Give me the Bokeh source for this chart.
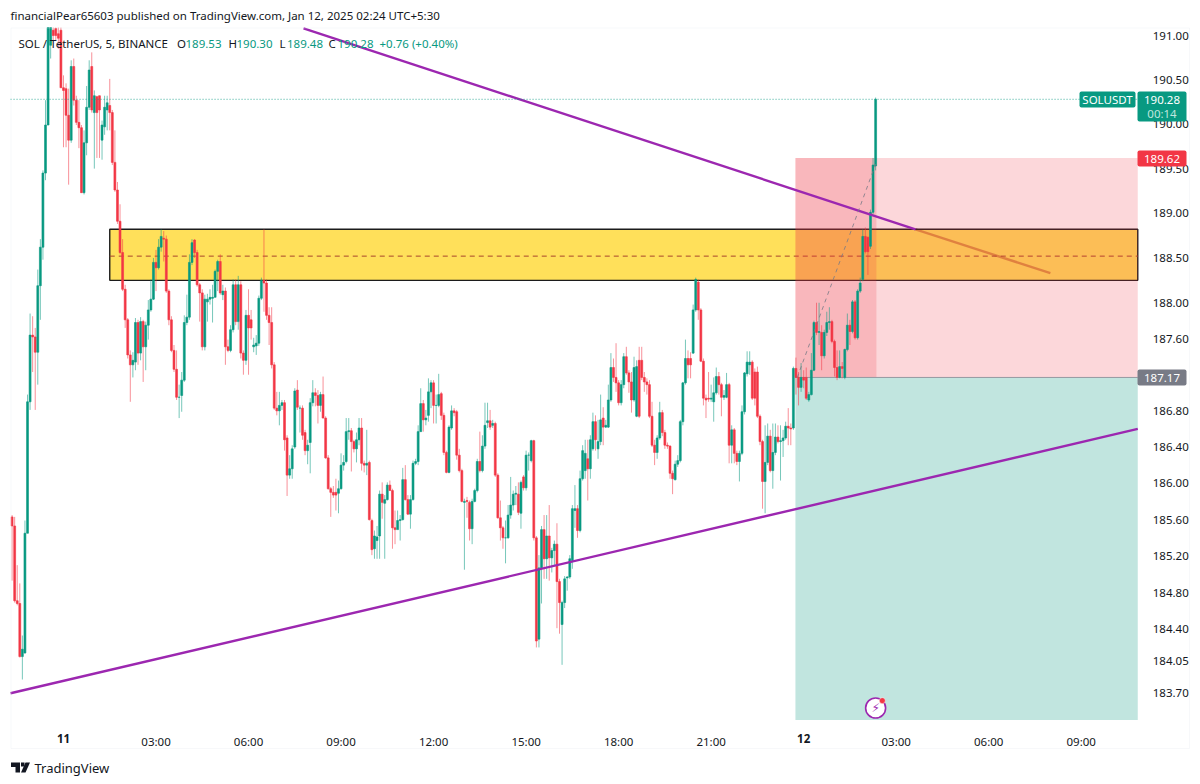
from bokeh.embed import file_html
from bokeh.resources import INLINE
from bokeh.plotting import figure
from bokeh.models import (Label, BoxAnnotation, PolyAnnotation, FixedTicker, NumeralTickFormatter,
                          Range1d, ColumnDataSource, LinearAxis)

# 5-minute bars, numbered from 00:00 on 11 Jan (bar 0); 337 bars, ten per row
opens = [
185.63,185.53,184.71,184.68,184.10,184.14,185.45,186.90,187.64,187.62,
187.45,188.19,188.62,189.45,189.99,190.89,191.06,191.08,191.02,191.06,
190.41,190.40,190.10,189.82,190.65,190.27,190.02,189.96,189.23,189.79,
190.19,190.65,190.13,190.31,190.32,189.82,189.97,190.16,190.21,190.13,
189.57,189.26,188.91,188.56,188.15,187.81,187.42,187.31,187.34,187.78,
187.44,187.79,187.51,187.75,187.92,188.04,188.45,188.39,188.62,188.72,
188.71,188.13,187.81,187.47,187.26,186.95,186.97,187.14,187.78,187.84,
188.45,188.70,188.56,188.20,188.11,187.51,188.01,188.04,188.05,188.06,
188.35,188.46,188.09,188.13,187.51,187.47,187.70,188.20,187.79,188.20,
187.44,187.36,187.86,187.81,187.51,187.52,187.55,188.05,188.25,188.22,
187.86,187.78,187.31,186.83,186.80,186.86,186.89,186.50,186.09,186.16,
186.40,187.03,186.83,186.83,186.56,186.36,186.45,186.89,187.00,186.97,
186.86,186.98,186.72,186.28,185.94,185.90,185.90,185.89,185.94,186.20,
186.24,186.57,186.58,186.46,186.38,186.48,186.61,186.22,186.20,186.23,
185.59,185.28,185.37,185.42,185.88,185.78,185.82,185.98,185.92,185.51,
185.49,185.59,185.60,186.04,185.82,185.66,185.82,186.22,186.24,186.57,
186.88,186.70,186.75,187.01,187.11,186.86,186.86,186.99,186.75,186.34,
186.12,186.61,186.80,186.79,186.31,186.14,185.79,185.81,185.79,185.50,
185.80,185.92,186.24,186.14,186.41,186.67,186.69,186.64,186.66,186.09,
185.62,185.51,185.40,185.40,185.65,185.76,185.88,185.88,185.67,186.07,
185.95,186.31,186.25,186.47,185.40,184.29,185.07,185.49,185.17,185.42,
185.18,185.26,185.33,184.92,184.45,184.69,184.96,184.97,185.15,185.70,
185.72,185.48,186.05,186.14,186.27,186.16,186.38,186.68,186.38,186.46,
186.72,186.62,186.62,186.92,187.28,187.17,187.11,186.89,187.09,187.40,
187.22,187.12,186.92,186.74,187.36,187.36,187.17,187.12,187.09,186.74,
186.42,186.34,186.50,186.78,186.56,186.42,186.41,186.11,186.04,186.21,
186.25,186.68,187.11,187.38,187.38,187.44,187.92,188.23,187.92,187.35,
186.94,186.94,186.93,186.90,187.00,187.18,187.09,186.95,186.95,187.09,
186.42,186.59,186.33,186.24,186.33,186.79,187.21,187.31,187.34,187.23,
187.23,186.74,186.46,186.02,186.23,186.52,186.14,186.34,186.51,186.46,
186.47,186.50,186.63,186.61,186.61,187.27,187.17,187.06,187.17,187.17,
186.92,186.98,187.25,187.78,187.67,187.67,187.41,187.67,187.78,187.79,
187.57,187.28,187.17,187.29,187.17,187.48,187.75,187.68,188.01,187.61,
188.13,188.26,188.74,188.73,188.63,189.01,189.53]
highs = [
185.65,185.63,185.10,184.90,184.33,185.59,186.98,187.88,187.85,187.72,
188.37,188.71,189.48,190.27,191.09,191.09,191.09,191.09,191.09,191.09,
190.55,190.46,190.40,190.72,190.74,190.32,190.27,189.99,189.93,190.43,
190.72,190.81,190.38,190.32,190.32,190.04,190.32,190.32,190.51,190.16,
189.93,189.35,189.10,188.71,188.20,187.83,187.47,187.45,187.83,187.81,
187.84,187.81,187.79,188.03,188.26,188.50,188.59,188.71,188.82,188.80,
188.75,188.15,187.85,187.53,187.47,187.09,187.23,187.86,188.09,188.54,
188.71,188.71,188.59,188.22,188.15,188.09,188.10,188.15,188.20,188.37,
188.48,188.54,188.20,188.17,187.59,187.75,188.26,188.26,188.30,188.24,
187.47,187.92,188.15,187.92,187.61,187.64,188.08,188.28,188.82,188.26,
187.95,187.95,187.34,187.01,187.01,186.92,186.92,186.53,186.31,186.42,
187.05,187.14,186.86,186.86,186.59,186.48,186.94,187.14,187.05,187.03,
187.01,187.18,186.74,186.31,185.96,185.97,186.05,186.03,186.33,186.31,
186.72,186.72,186.61,186.48,186.56,186.72,186.72,186.25,186.59,186.25,
185.61,185.48,185.53,185.92,186.01,185.87,186.01,186.03,185.94,185.70,
185.70,185.65,186.17,186.20,185.87,185.87,186.25,186.27,186.64,187.05,
186.92,186.81,187.16,187.14,187.14,186.98,187.21,187.01,186.78,186.36,
186.64,186.86,186.83,186.81,186.38,186.16,185.83,185.85,185.81,185.83,
185.94,186.27,186.57,186.53,186.89,186.89,186.81,186.70,186.68,186.11,
185.81,185.53,185.59,185.76,186.07,185.92,185.97,186.01,186.03,186.09,
186.36,186.34,186.48,186.48,185.42,185.21,185.53,185.65,185.65,185.76,
185.29,185.37,185.56,184.95,184.71,184.98,184.98,185.21,185.76,185.98,
185.76,186.14,186.42,186.48,186.48,186.53,186.78,186.75,186.70,186.98,
186.84,186.70,187.09,187.44,187.38,187.55,187.14,187.14,187.44,187.51,
187.25,187.23,187.40,187.36,187.51,187.51,187.23,187.16,187.14,186.90,
186.48,186.53,186.90,186.81,186.59,186.45,186.42,186.14,186.25,186.31,
186.70,187.12,187.59,187.47,187.45,187.98,188.28,188.26,187.94,187.38,
186.98,187.23,187.09,187.17,187.28,187.23,187.11,187.03,187.22,187.11,
186.64,186.61,186.36,186.36,186.86,187.23,187.46,187.46,187.36,187.27,
187.29,186.76,186.48,186.64,186.66,186.59,186.66,186.66,186.64,186.64,
186.59,186.68,186.83,186.66,187.29,187.39,187.23,187.33,187.25,187.28,
187.01,187.44,187.80,188.00,188.00,187.75,187.70,187.90,187.95,187.81,
187.59,187.47,187.47,187.34,187.49,187.88,187.81,188.03,188.03,188.15,
188.28,188.82,188.84,188.74,189.04,189.62,190.30]
lows = [
184.93,184.69,184.66,184.09,183.85,184.13,185.45,186.81,187.23,186.81,
187.09,187.81,188.48,189.37,189.99,190.74,190.94,190.94,190.85,190.41,
189.74,189.74,189.32,189.79,190.21,189.99,189.73,189.23,189.21,189.65,
190.16,190.13,189.50,189.62,189.62,189.60,189.88,189.93,189.93,189.54,
189.24,188.88,188.54,188.13,187.72,187.38,186.90,187.17,187.25,187.31,
187.36,187.12,187.25,187.59,187.90,188.03,188.13,188.37,188.57,188.46,
188.11,187.75,187.45,187.23,186.92,186.72,186.79,187.12,187.75,187.81,
188.42,188.50,188.18,187.79,187.47,187.47,187.79,187.98,187.78,188.13,
188.13,188.09,188.03,187.31,187.45,187.45,187.67,187.75,187.70,187.38,
187.20,187.31,187.20,187.59,187.45,187.42,187.52,188.03,187.90,187.81,
187.53,187.27,186.81,186.75,186.64,186.81,186.36,185.86,186.05,186.05,
186.38,186.81,186.56,186.48,186.31,186.21,186.11,186.85,186.85,186.66,
186.79,186.72,186.27,185.93,185.63,185.84,185.70,185.67,185.93,186.14,
186.22,186.48,186.13,186.34,186.23,186.42,186.14,186.12,186.09,185.59,
185.21,185.17,185.17,185.17,185.61,185.17,185.81,185.92,185.28,185.33,
185.50,185.37,185.59,185.81,185.65,185.50,185.81,186.20,186.20,186.57,
186.57,186.64,186.68,186.83,186.66,186.66,186.84,186.70,186.31,186.11,
186.11,186.59,186.74,186.26,186.12,185.79,185.05,185.62,185.37,185.33,
185.79,185.90,186.12,186.12,186.38,186.61,186.59,186.61,186.07,185.61,
185.37,185.28,185.12,185.39,185.61,185.70,185.76,185.65,185.50,185.92,
185.92,186.14,186.23,185.37,184.20,184.20,184.68,184.95,184.95,184.93,
185.02,185.10,184.41,184.35,184.01,184.63,184.82,184.95,185.06,185.51,
185.40,185.46,186.03,186.05,185.81,186.05,186.36,186.36,186.27,186.42,
186.42,186.61,186.61,186.90,187.12,187.01,186.86,186.86,187.05,187.20,
187.00,186.78,186.90,186.73,186.72,187.14,187.01,186.98,186.72,186.40,
186.20,186.27,186.48,186.52,186.38,186.38,186.05,185.88,186.03,186.18,
186.23,186.64,187.09,187.16,187.16,187.43,187.90,187.81,187.34,186.86,
186.72,186.90,186.90,186.68,186.98,186.98,186.74,186.92,186.94,186.22,
186.22,186.22,186.20,186.02,186.31,186.76,187.18,187.20,186.92,186.86,
186.72,186.42,185.72,185.67,186.20,186.12,185.94,186.31,186.44,186.03,
186.29,186.48,186.42,186.42,186.59,186.98,186.86,187.01,187.05,186.92,
186.90,186.97,187.24,187.64,187.53,187.25,187.38,187.63,187.70,187.55,
187.18,187.14,187.16,187.16,187.15,187.46,187.53,187.66,187.59,187.59,
188.11,188.24,188.55,188.31,188.60,188.99,189.48]
closes = [
185.53,184.71,184.68,184.10,184.18,185.45,186.90,187.64,187.62,187.45,
188.19,188.62,189.45,189.99,191.09,191.09,191.00,191.00,190.97,190.41,
190.38,190.10,189.82,190.65,190.27,190.02,189.96,189.23,189.79,190.19,
190.61,190.16,190.32,190.13,190.16,189.99,190.19,190.24,190.13,189.57,
189.26,188.91,188.56,188.15,187.81,187.42,187.31,187.36,187.78,187.44,
187.79,187.51,187.75,187.92,188.04,188.45,188.39,188.62,188.74,188.71,
188.13,187.81,187.47,187.26,186.95,186.95,187.14,187.78,187.84,188.45,
188.67,188.56,188.20,188.11,187.51,188.04,188.04,188.06,188.06,188.35,
188.46,188.11,188.13,187.51,187.47,187.70,188.20,187.79,188.20,187.44,
187.36,187.86,187.72,187.72,187.53,187.55,188.05,188.25,188.22,187.86,
187.78,187.31,186.83,186.80,186.86,186.89,186.48,186.09,186.16,186.38,
187.02,186.84,186.83,186.53,186.36,186.42,186.89,187.00,186.97,186.86,
186.98,186.72,186.28,185.94,185.90,185.87,185.87,185.94,186.20,186.23,
186.57,186.58,186.46,186.38,186.48,186.61,186.22,186.20,186.22,185.60,
185.27,185.42,185.41,185.88,185.79,185.82,185.98,185.92,185.51,185.49,
185.59,185.60,186.04,185.82,185.66,185.82,186.22,186.24,186.57,186.88,
186.70,186.72,187.01,187.11,186.86,186.86,186.98,186.75,186.34,186.12,
186.62,186.80,186.78,186.31,186.14,185.80,185.80,185.80,185.50,185.80,
185.92,186.24,186.14,186.41,186.64,186.69,186.62,186.66,186.09,185.62,
185.51,185.40,185.40,185.65,185.76,185.88,185.89,185.68,186.01,185.95,
186.31,186.31,186.47,185.40,184.27,185.07,185.49,185.17,185.42,185.18,
185.26,185.33,184.92,184.69,184.69,184.95,184.97,185.17,185.72,185.72,
185.48,186.05,186.36,186.33,186.16,186.48,186.68,186.48,186.46,186.70,
186.62,186.64,186.92,187.28,187.17,187.11,186.89,187.09,187.40,187.22,
187.12,186.92,187.28,187.29,186.74,187.17,187.12,187.09,186.74,186.42,
186.34,186.50,186.78,186.56,186.42,186.41,186.11,186.05,186.21,186.25,
186.68,187.11,187.38,187.31,187.31,187.92,188.26,187.92,187.35,186.94,
186.92,186.93,186.94,187.00,187.18,187.09,186.95,186.97,187.09,186.42,
186.59,186.33,186.24,186.33,186.79,187.22,187.34,187.34,186.94,186.94,
186.74,186.46,186.02,186.23,186.52,186.14,186.34,186.51,186.46,186.47,
186.50,186.63,186.61,186.60,187.27,187.17,187.06,187.17,187.14,186.94,
186.98,187.25,187.78,187.67,187.68,187.41,187.67,187.78,187.79,187.57,
187.28,187.17,187.29,187.27,187.48,187.75,187.68,188.01,187.61,188.13,
188.22,188.74,188.57,188.57,189.01,189.54,190.28]
first_bar = -20

price_ticks = [191.00, 190.50, 190.00, 189.50, 189.00, 188.50, 188.00, 187.60, 186.80,
               186.40, 186.00, 185.60, 185.20, 184.80, 184.40, 184.05, 183.70]
time_tick_bars = [36, 72, 108, 144, 180, 216, 252, 324, 360, 396]
time_tick_text = ["03:00", "06:00", "09:00", "12:00", "15:00", "18:00", "21:00", "03:00", "06:00", "09:00"]
day_tick_bars = [0, 288]
day_tick_text = ["11", "12"]

zone_low, zone_mid, zone_high, zone_start = 188.25, 188.52, 188.82, 18
pos_start, pos_end = 284.8, 316.3
stop_price, entry_price, target_price = 189.62, 187.17, 183.41
last_price = 190.28
chart_left, chart_right = -20.6, 418.0
falling_x, falling_y = [93.4, 331.5, 384.0], [191.08, 188.82, 188.33]
rising_x, rising_y = [chart_left, chart_right], [183.70, 186.60]
path_x, path_y = [285.5, 316.0], [187.17, 189.55]
alert_bar, alert_price = 316.0, 183.54

X_RANGE = (-24.51, 442.41)
Y_RANGE = (182.71, 191.397)
GREEN, RED = "#089981", "#f23645"
PURPLE = "#9c27b0"
FONT = "Noto Sans"
INK = "#131722"
TXT = "11.5px"

p = figure(width=1200, height=784, output_backend="svg", toolbar_location=None, tools="",
           x_range=Range1d(*X_RANGE), y_range=Range1d(*Y_RANGE), y_axis_type="log",
           y_axis_location="right", min_border=0, min_border_left=0, min_border_right=0,
           min_border_top=0, min_border_bottom=0, outline_line_color=None)
p.grid.visible = False

ax = p.xaxis[0]
ax.ticker = FixedTicker(ticks=time_tick_bars)
ax.major_label_overrides = dict(zip(time_tick_bars, time_tick_text))
ax.fixed_location = target_price
ay = p.yaxis[0]
ay.ticker = FixedTicker(ticks=price_ticks)
ay.formatter = NumeralTickFormatter(format="0.00")
ay.fixed_location = chart_right
day_axis = LinearAxis(ticker=FixedTicker(ticks=day_tick_bars),
                      major_label_overrides=dict(zip(day_tick_bars, day_tick_text)),
                      major_label_text_font_style="bold", fixed_location=target_price)
p.add_layout(day_axis, "below")
for a, st in ((ax, 8), (day_axis, 8), (ay, 9)):
    a.axis_line_color = None
    a.major_tick_line_color = None
    a.minor_tick_line_color = None
    a.major_label_text_font = FONT
    a.major_label_text_font_size = TXT
    a.major_label_text_color = INK
    a.major_label_standoff = st

# layered drawings
p.line(falling_x[1:], falling_y[1:], line_color=PURPLE, line_width=2.4)
p.quad(left=[zone_start], right=[chart_right], bottom=[zone_low], top=[zone_high],
       fill_color="#ffcf02", fill_alpha=0.65, line_color="#1c1c1c", line_width=1.4)
p.line([zone_start, chart_right], [zone_mid, zone_mid], line_color="#a8452c", line_width=1, line_dash="5 4")
p.quad(left=[pos_start], right=[chart_right], bottom=[entry_price], top=[stop_price],
       fill_color=RED, fill_alpha=0.2, line_color=None)
p.quad(left=[pos_start], right=[pos_end], bottom=[entry_price], top=[stop_price],
       fill_color=RED, fill_alpha=0.2, line_color=None)
p.quad(left=[pos_start], right=[chart_right], bottom=[target_price], top=[entry_price],
       fill_color=GREEN, fill_alpha=0.25, line_color=None)
p.line([pos_start, chart_right], [entry_price, entry_price], line_color="#9598a1", line_width=1)

bars = list(range(first_bar, first_bar + len(closes)))
src = ColumnDataSource(dict(
    x=bars, o=opens, h=highs, l=lows, c=closes,
    col=[GREEN if c >= o else RED for o, c in zip(opens, closes)],
    top=[max(o, c) for o, c in zip(opens, closes)],
    bot=[min(o, c) for o, c in zip(opens, closes)]))
p.segment(x0="x", x1="x", y0="l", y1="h", source=src, line_color="col", line_width=1, line_alpha=0.55)
p.vbar(x="x", width=0.75, top="top", bottom="bot", source=src, fill_color="col", line_color="col", line_width=0.6)

p.line(falling_x[:2], falling_y[:2], line_color=PURPLE, line_width=2.4)
p.line(rising_x, rising_y, line_color=PURPLE, line_width=2.4)
p.line(path_x, path_y, line_color="#787b86", line_width=1, line_dash="4 4", line_alpha=0.8)
p.line([chart_left, chart_right], [last_price, last_price], line_color=GREEN, line_width=1, line_dash="1 2", line_alpha=0.8)

p.scatter([alert_bar], [alert_price], size=20, marker="circle", fill_color="white",
          line_color="#9c27b0", line_width=1.6)
p.scatter([alert_bar + 2.6], [alert_price + 0.08], size=6, marker="circle", fill_color=RED, line_color="white", line_width=0.5)


def C(x, y, text, color=INK, size=TXT, align="left", style="normal"):
    p.add_layout(Label(x=x, y=y, x_units="canvas", y_units="canvas", text=text, text_color=color,
                       text_font=FONT, text_font_size=size, text_align=align, text_baseline="middle",
                       text_font_style=style))


def B(l, t, r, b, color=None, line=None):
    p.add_layout(BoxAnnotation(left=l, right=r, top=t, bottom=b, left_units="canvas",
                               right_units="canvas", top_units="canvas", bottom_units="canvas",
                               fill_color=color, fill_alpha=1 if color else 0, line_color=line,
                               line_width=1 if line else 0, border_radius=2 if color else 0))


B(10.5, 27.5, 1189, 748, None, "#e6e8ee")
C(10, 15, "financialPear65603 published on TradingView.com, Jan 12, 2025 02:24 UTC+5:30")

C(18, 43, "SOL / TetherUS, 5, BINANCE")
for xx, tt, cc in [(176.5, "O", INK), (185, "189.53", GREEN), (228, "H", INK), (236, "190.30", GREEN),
                   (279, "L", INK), (286.5, "189.48", GREEN), (328, "C", INK), (337, "190.28", GREEN),
                   (379, "+0.76 (+0.40%)", GREEN)]:
    C(xx, 43, tt, cc)

B(1079, 91, 1135, 107, GREEN)
C(1107, 99, "SOLUSDT", "white", align="center")
B(1137, 91, 1186, 121, GREEN)
C(1161.5, 99, "190.28", "white", align="center")
C(1161.5, 113, "00:14", "#bfe6de", align="center")
B(1137, 150, 1186, 166, RED)
C(1161.5, 158, "189.62", "white", align="center")
B(1137, 369, 1186, 385, "#787b86")
C(1161.5, 377, "187.17", "white", align="center")

p.add_layout(Label(x=alert_bar, y=alert_price, x_units="data", y_units="data", text="\u26a1", text_color=PURPLE,
                   text_font="DejaVu Sans", text_font_size="12px", text_align="center", text_baseline="middle"))

# TradingView wordmark
for xs, ys in [([10.5, 19.5, 19.5, 15, 15, 10.5], [762, 762, 772, 772, 766.5, 766.5]),
               ([20.5, 24, 24, 20.5], [762, 762, 766, 766]),
               ([25, 29.5, 25, 20.5], [762, 762, 772, 772])]:
    p.add_layout(PolyAnnotation(xs=xs, ys=ys, xs_units="canvas", ys_units="canvas",
                                fill_color=INK, fill_alpha=1, line_color=None))
C(34, 767, "TradingView", INK, "13px")

open("out.html", "w").write(file_html(p, INLINE))
